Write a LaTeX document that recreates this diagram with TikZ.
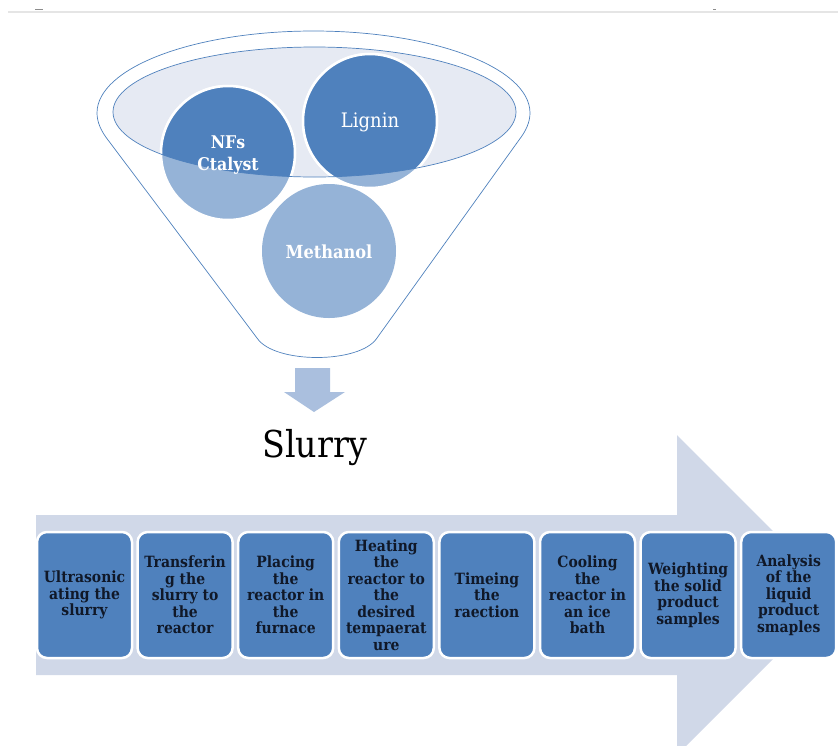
\documentclass[tikz,border=0pt]{standalone}
\usepackage{fontspec}
\setmainfont{DejaVu Serif Condensed}
\begin{document}
\definecolor{accent}{HTML}{4F81BD}
\definecolor{accentlight}{HTML}{95B3D7}
\definecolor{bandfill}{HTML}{D0D8E8}
\definecolor{bowlfill}{HTML}{E6EAF3}
\definecolor{droparrow}{HTML}{AABFDE}
\definecolor{textdark}{HTML}{101828}
\tikzset{
  stage/.style={rectangle, rounded corners=10pt, fill=accent, draw=white,
    line width=2.5pt, minimum width=95pt, minimum height=126pt, align=center,
    font=\bfseries\fontsize{15.5}{16.5}\selectfont, text=textdark, inner sep=0pt},
  ball/.style={circle, minimum size=134pt, inner sep=0pt, draw=white, line width=2.5pt},
  balltext/.style={text=white, align=center, font=\fontsize{20}{22}\selectfont},
  outline/.style={draw=accent, line width=0.7pt}
}
\begin{tikzpicture}[x=1pt, y=-1pt]
\useasboundingbox (0,0) rectangle (838,745);
\clip (0,0) rectangle (838,745);

% page rule at the top
\draw[black!10, line width=1.5pt] (8,12) -- (838,12);
\draw[black!45, line width=0.8pt] (35,9) -- (43,9);
\draw[black!45, line width=0.8pt] (713,9) -- (716,9);

% process band with arrow head
\fill[bandfill] (36,515) -- (677,515) -- (677,435) -- (837,595)
  -- (677,755) -- (677,675) -- (36,675) -- cycle;

% funnel body
\path[outline, fill=white] (97,113) arc[start angle=180, end angle=0, x radius=216.5pt, y radius=82pt]
  .. controls (530,122) and (526,131) .. (519,140) -- (377,338)
  .. controls (360,364) and (274,364) .. (257,338) -- (108,140)
  .. controls (101,131) and (97,122) .. (97,113) -- cycle;

% bowl opening
\fill[bowlfill] (314.5,112) ellipse[x radius=201.5pt, y radius=65pt];

% ingredients (light part)
\node[ball, fill=accentlight] (nfs) at (228,153) {};
\node[ball, fill=accentlight] (lignin) at (370,121) {};
\node[ball, fill=accentlight, draw=none] (methanol) at (329,251) {};

% ingredients (part inside the bowl opening)
\begin{scope}
  \clip (314.5,112) ellipse[x radius=201.5pt, y radius=65pt];
  \fill[accent] (nfs.center) circle[radius=67pt];
  \fill[accent] (lignin.center) circle[radius=67pt];
  \draw[white, line width=2.5pt] (nfs.center) circle[radius=67pt];
  \draw[white, line width=2.5pt] (lignin.center) circle[radius=67pt];
\end{scope}
\draw[outline] (314.5,112) ellipse[x radius=201.5pt, y radius=65pt];

\node[balltext, font=\bfseries\fontsize{17.5}{22}\selectfont] (nfslabel) at (228,155) {NFs\\Ctalyst};
\node[balltext] (ligninlabel) at (370,122) {Lignin};
\node[balltext, font=\bfseries\fontsize{18}{22}\selectfont] (methanollabel) at (329,252) {Methanol};

% output arrow and label
\fill[droparrow] (295,368) -- (330,368) -- (330,392) -- (345,392) -- (314,412)
  -- (284,392) -- (295,392) -- cycle;
\node[anchor=base, font=\fontsize{37}{42}\selectfont, text=black, inner sep=0pt] (slurry) at (315,457) {Slurry};

% process steps
\foreach \i/\txt in {
  0/{Ultrasonic\\ating the\\slurry},
  1/{Transferin\\g the\\slurry to\\the\\reactor},
  2/{Placing\\the\\reactor in\\the\\furnace},
  3/{Heating\\the\\reactor to\\the\\desired\\tempaerat\\ure},
  4/{Timeing\\the\\raection},
  5/{Cooling\\the\\reactor in\\an ice\\bath},
  6/{Weighting\\the solid\\product\\samples},
  7/{Analysis\\of the\\liquid\\product\\smaples}}
{
  \node[stage] (step\i) at ({84.5+100.6*\i},595) {\txt};
}
\end{tikzpicture}
\end{document}
